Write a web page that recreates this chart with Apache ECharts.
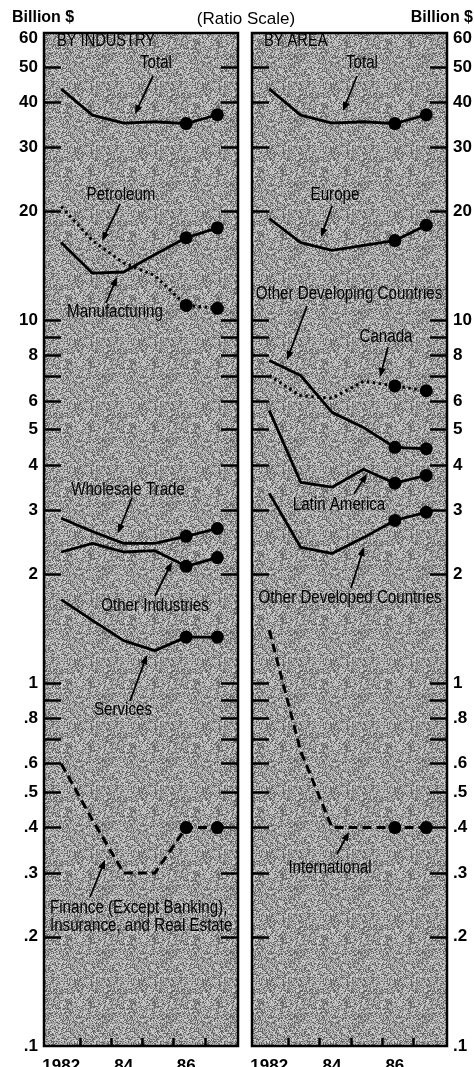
<!DOCTYPE html>
<html><head><meta charset="utf-8">
<script src="https://cdn.jsdelivr.net/npm/echarts@6/dist/echarts.min.js"></script>
<style>html,body{margin:0;padding:0;background:#fff}#c{width:474px;height:1067px}</style>
</head><body><div id="c"></div>
<script>
// ---------- DATA ----------
const years = [1982, 1983, 1984, 1985, 1986, 1987];

// By industry (billion $)
const totalVals         = [43.5, 36.8, 35.0, 35.3, 34.9, 36.9];
const petroleumVals     = [20.6, 16.6, 14.4, 13.3, 11.0, 10.8];
const manufacturingVals = [16.4, 13.5, 13.6, 15.2, 16.9, 18.0];
const wholesaleVals     = [2.85, 2.62, 2.43, 2.43, 2.54, 2.67];
const otherIndVals      = [2.30, 2.43, 2.30, 2.32, 2.10, 2.22];
const servicesVals      = [1.70, 1.49, 1.31, 1.23, 1.34, 1.34];
const financeVals       = [0.60, 0.42, 0.30, 0.30, 0.40, 0.40];

// By area (billion $)
const europeVals        = [19.1, 16.4, 15.6, 16.1, 16.6, 18.3];
const otherDevingVals   = [7.76, 7.05, 5.58, 5.07, 4.47, 4.43];
const canadaVals        = [7.05, 6.20, 6.10, 6.80, 6.60, 6.40];
const latinAmVals       = [5.65, 3.58, 3.47, 3.89, 3.56, 3.74];
const otherDevedVals    = [3.34, 2.37, 2.28, 2.52, 2.81, 2.96];
const internationalVals = [1.40, 0.65, 0.40, 0.40, 0.40, 0.40];

// axis ticks / labels
const yTickValues  = [0.2,0.3,0.4,0.5,0.6,0.7,0.8,0.9,1,2,3,4,5,6,7,8,9,10,20,30,40,50];
const yLabelValues = [0.1,0.2,0.3,0.4,0.5,0.6,0.8,1,2,3,4,5,6,8,10,20,30,40,50,60];
const yLabelText   = ['.1','.2','.3','.4','.5','.6','.8','1','2','3','4','5','6','8','10','20','30','40','50','60'];
const xTickValues  = [1982.6, 1983.6, 1984.6, 1985.6, 1986.6];
const xLabelValues = [1982, 1984, 1986];
const xLabelText   = ['1982', '84', '86'];

// ---------- CHART ----------
const SANS = "'Liberation Sans',Arial,Helvetica,sans-serif";

// stipple texture for the panel background (deterministic hash)
const tex = document.createElement('canvas');
tex.width = 64; tex.height = 64;
(function(){
  const g = tex.getContext('2d');
  const img = g.createImageData(64, 64);
  for (let y = 0; y < 64; y++) for (let x = 0; x < 64; x++) {
    let h = (x * 374761393 + y * 668265263) | 0;
    h = (h ^ (h >>> 13)) * 1274126177 | 0;
    h = (h ^ (h >>> 16)) >>> 0;
    const r = h % 100;
    const v = r < 32 ? 100 : (r < 70 ? 162 : 205);
    const i = (y * 64 + x) * 4;
    img.data[i] = img.data[i+1] = img.data[i+2] = v; img.data[i+3] = 255;
  }
  g.putImageData(img, 0, 0);
})();

const chart = echarts.init(document.getElementById('c'), null, {renderer: 'canvas'});

const X_MIN = 1981.45, X_MAX = 1987.66;
const grids = [
  {left: 44, top: 33, width: 194, height: 1013},
  {left: 252, top: 33, width: 195, height: 1013}
].map(g => Object.assign(g, {show: true, borderColor: '#000', borderWidth: 2.5,
  containLabel: false, outerBoundsMode: 'none',
  backgroundColor: {image: tex, repeat: 'repeat'}}));

function xAxis(gi) {
  return {
    type: 'value', gridIndex: gi, min: X_MIN, max: X_MAX,
    axisLine: {show: false}, splitLine: {show: false},
    axisTick: {show: true, inside: true, length: 8, customValues: xTickValues,
      lineStyle: {color: '#000', width: 2.5}},
    axisLabel: {show: true, customValues: xLabelValues, margin: 12,
      fontFamily: SANS, fontSize: 17, fontWeight: 'bold', color: '#000',
      formatter: v => { const i = xLabelValues.findIndex(a => Math.abs(a - v) < 1e-6); return i >= 0 ? xLabelText[i] : ''; }}
  };
}
function yAxis(gi, pos, showLabel) {
  return {
    type: 'log', logBase: 10, gridIndex: gi, position: pos, min: 0.1, max: 62,
    axisLine: {show: false}, splitLine: {show: false},
    axisTick: {show: true, inside: true, length: 17, customValues: yTickValues,
      lineStyle: {color: '#000', width: 2.5}},
    axisLabel: {show: showLabel, customValues: yLabelValues, margin: 6,
      fontFamily: SANS, fontSize: 17, fontWeight: 'bold', color: '#000',
      formatter: v => { const i = yLabelValues.findIndex(a => Math.abs(a - v) / a < 1e-6); return i >= 0 ? yLabelText[i] : ''; }}
  };
}

function line(name, vals, gi, style) {
  return {
    name, type: 'line', xAxisIndex: gi, yAxisIndex: gi * 2,
    data: years.map((y, i) => [y, vals[i]]),
    symbol: 'circle',
    symbolSize: (v, p) => (p.dataIndex >= 4 ? 13 : 0),
    showSymbol: true,
    itemStyle: {color: '#000'},
    lineStyle: Object.assign({color: '#000', width: 2.8, cap: 'butt', join: 'round'}, style || {}),
    silent: true, animation: false, z: 5
  };
}
const DOT = {type: [2.5, 3.5], width: 3};
const DASH = {type: [9, 5], width: 3};

const series = [
  line('Total', totalVals, 0),
  line('Petroleum', petroleumVals, 0, DOT),
  line('Manufacturing', manufacturingVals, 0),
  line('Wholesale Trade', wholesaleVals, 0),
  line('Other Industries', otherIndVals, 0),
  line('Services', servicesVals, 0),
  line('Finance', financeVals, 0, DASH),
  line('Total ', totalVals, 1),
  line('Europe', europeVals, 1),
  line('Other Developing Countries', otherDevingVals, 1),
  line('Canada', canadaVals, 1, DOT),
  line('Latin America', latinAmVals, 1),
  line('Other Developed Countries', otherDevedVals, 1),
  line('International', internationalVals, 1, DASH)
];

// ---------- annotations (condensed look via horizontal scaling) ----------
function txt(t, x, y, opt, sx) {
  return {type: 'text', x, y, z: 20, silent: true, scaleX: sx == null ? 0.84 : sx,
    style: Object.assign({
      text: t, fill: '#000', font: '18px ' + SANS,
      align: 'center', verticalAlign: 'middle', textAlign: 'center', textVerticalAlign: 'middle'
    }, opt || {})};
}
function arrow(x1, y1, x2, y2) {
  const dx = x2 - x1, dy = y2 - y1, L = Math.hypot(dx, dy), ux = dx / L, uy = dy / L;
  const hl = 9, hw = 3.6, bx = x2 - ux * hl, by = y2 - uy * hl;
  return [
    {type: 'line', z: 20, silent: true, shape: {x1, y1, x2: bx + ux * 2, y2: by + uy * 2},
      style: {stroke: '#000', lineWidth: 1.8}},
    {type: 'polygon', z: 20, silent: true,
      shape: {points: [[x2, y2], [bx - uy * hw, by + ux * hw], [bx + uy * hw, by - ux * hw]]},
      style: {fill: '#000'}}
  ];
}
const LEFT = {align: 'left', textAlign: 'left'};
const graphics = [
  txt('Billion $', 12, 18, {font: 'bold 16px ' + SANS, align: 'left', textAlign: 'left'}, 1),
  txt('(Ratio Scale)', 246, 19, {font: '17px ' + SANS}, 1),
  txt('Billion $', 473, 18, {font: 'bold 16px ' + SANS, align: 'right', textAlign: 'right'}, 1),
  txt('BY INDUSTRY', 57, 41, {font: '19px ' + SANS, align: 'left', textAlign: 'left'}, 0.77),
  txt('BY AREA', 264, 41, {font: '19px ' + SANS, align: 'left', textAlign: 'left'}, 0.77),

  txt('Total', 156, 63), ...arrow(153, 76, 135, 114),
  txt('Petroleum', 121, 195), ...arrow(120, 204, 102, 241),
  txt('Manufacturing', 115, 312), ...arrow(106, 303, 117, 277),
  txt('Wholesale Trade', 128, 490), ...arrow(132, 498, 118, 533),
  txt('Other Industries', 155, 606), ...arrow(155, 596, 172, 562),
  txt('Services', 123, 710), ...arrow(130, 701, 147, 655),
  txt('Finance (Except Banking),', 50, 908, LEFT),
  txt('Insurance, and Real Estate', 50, 926, LEFT),
  ...arrow(90, 897, 105, 860),

  txt('Total', 362, 63), ...arrow(357, 76, 343, 111),
  txt('Europe', 335, 195), ...arrow(332, 206, 321, 237),
  txt('Other Developing Countries', 349, 294), ...arrow(307, 306, 287, 360),
  txt('Canada', 386, 337), ...arrow(388, 347, 380, 377),
  txt('Latin America', 339, 505), ...arrow(354, 494, 367, 474),
  txt('Other Developed Countries', 350, 598), ...arrow(351, 588, 364, 547),
  txt('International', 330, 868), ...arrow(337, 854, 349, 832)
];

chart.setOption({
  animation: false,
  backgroundColor: '#fff',
  grid: grids,
  xAxis: [xAxis(0), xAxis(1)],
  yAxis: [yAxis(0, 'left', true), yAxis(0, 'right', false), yAxis(1, 'left', false), yAxis(1, 'right', true)],
  series,
  graphic: graphics
});
</script></body></html>
